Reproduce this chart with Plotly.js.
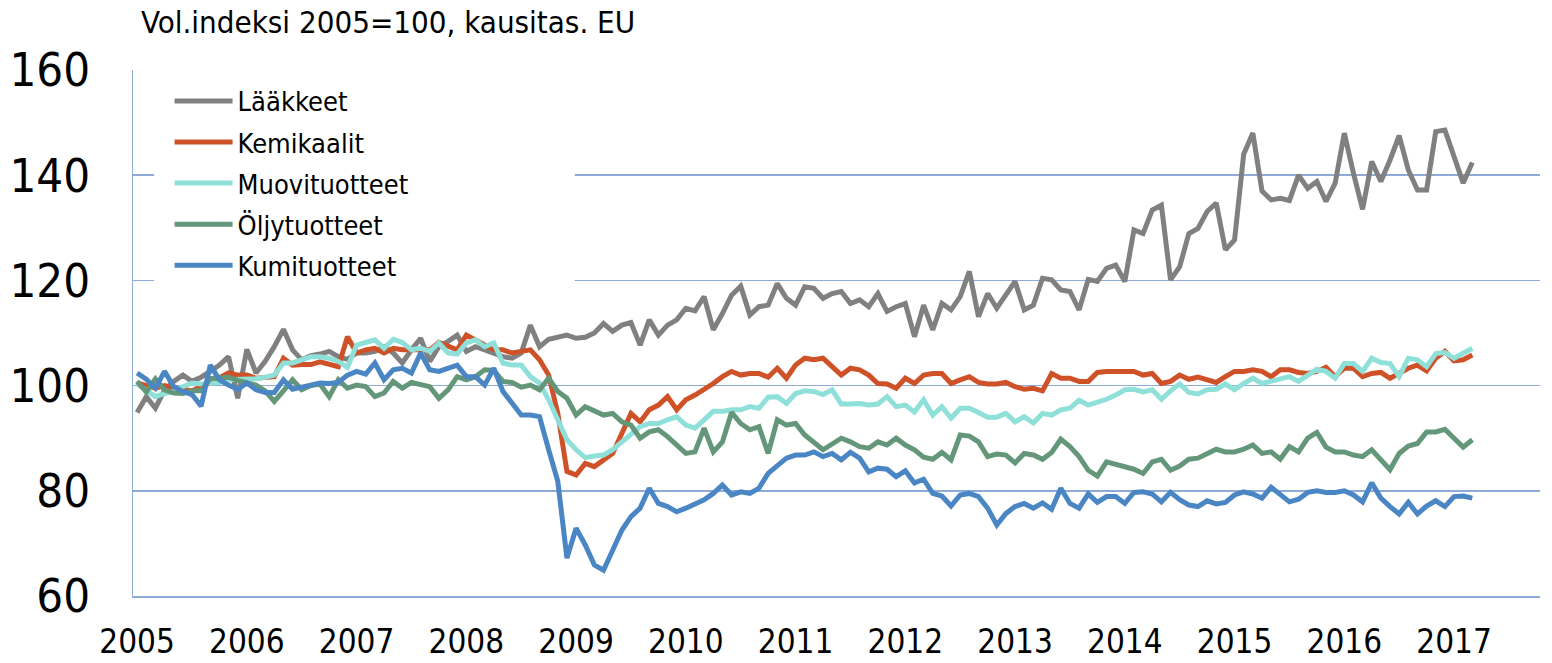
<!DOCTYPE html>
<html>
<head>
<meta charset="utf-8">
<script src="https://cdn.plot.ly/plotly-3.0.1.min.js"></script>
<style>
html,body{margin:0;padding:0;background:#fff;}
#chart{width:1552px;height:663px;}
</style>
</head>
<body>
<div id="chart"></div>
<script>
// Year tick labels (January of each year)
const years = ['2005','2006','2007','2008','2009','2010','2011','2012','2013','2014','2015','2016','2017'];

// Monthly series, Jan 2005 – Mar 2017 (volume index 2005=100, seasonally adjusted)
const laakkeet = [
  94.9, 97.9, 95.7, 99.2, 100.8, 102.0, 100.8, 101.6, 102.7, 103.9, 105.5, 97.6,
  106.9, 102.4, 104.6, 107.4, 110.7, 106.8, 104.9, 105.7, 106.0, 106.5, 105.5, 105.0,
  106.2, 106.2, 106.5, 107.4, 106.2, 104.3, 106.8, 109.0, 104.6, 107.4, 108.4, 109.6,
  106.5, 107.4, 106.8, 106.2, 105.5, 105.2, 106.2, 111.5, 107.4, 108.8, 109.3, 109.6,
  109.0, 109.2, 110.0, 111.8, 110.3, 111.5, 112.0, 107.7, 112.5, 109.6, 111.5, 112.5,
  114.7, 114.2, 116.9, 110.6, 113.7, 117.2, 118.9, 113.4, 115.0, 115.3, 119.4, 116.6,
  115.3, 118.8, 118.5, 116.6, 117.5, 117.9, 115.6, 116.3, 115.0, 117.5, 114.1, 115.0,
  115.6, 109.3, 115.3, 110.6, 115.6, 114.4, 116.9, 121.7, 113.1, 117.5, 114.7, 117.2,
  119.8, 114.4, 115.3, 120.4, 120.1, 118.2, 117.9, 114.4, 120.2, 119.8, 122.3, 122.9,
  119.8, 129.6, 128.9, 133.4, 134.3, 120.1, 122.6, 128.9, 129.9, 133.1, 134.7, 125.8,
  127.7, 144.0, 148.0, 137.0, 135.3, 135.6, 135.2, 140.0, 137.5, 138.8, 135.0, 138.5,
  148.0, 140.4, 133.5, 142.6, 138.8, 142.9, 147.5, 141.0, 137.2, 137.2, 148.3, 148.6,
  143.5, 138.5, 142.4
];
const kemikaalit = [
  100.5, 100.0, 99.5, 100.0, 99.5, 99.3, 99.0, 99.8, 100.5, 101.5, 102.4, 102.0,
  102.0, 101.4, 101.5, 101.7, 105.2, 103.9, 104.0, 104.0, 104.5, 104.0, 103.6, 109.3,
  106.2, 106.8, 107.1, 106.2, 107.1, 106.8, 106.8, 106.8, 106.8, 108.2, 107.4, 106.8,
  109.6, 108.7, 107.7, 106.8, 106.8, 106.2, 106.5, 106.8, 104.9, 102.0, 94.7, 83.7,
  83.0, 85.2, 84.6, 85.9, 87.1, 90.9, 94.7, 93.1, 95.4, 96.3, 97.9, 95.4,
  97.3, 98.2, 99.2, 100.4, 101.7, 102.7, 102.0, 102.3, 102.3, 101.6, 103.3, 101.4,
  103.9, 105.2, 104.9, 105.2, 103.6, 102.0, 103.3, 103.0, 102.0, 100.4, 100.3, 99.5,
  101.4, 100.4, 102.0, 102.3, 102.3, 100.4, 101.1, 101.7, 100.6, 100.3, 100.3, 100.6,
  99.8, 99.3, 99.5, 99.0, 102.3, 101.4, 101.4, 100.8, 100.8, 102.5, 102.7, 102.7,
  102.8, 102.7, 102.0, 102.3, 100.4, 100.8, 102.0, 101.2, 101.6, 101.2, 100.6, 101.7,
  102.7, 102.7, 103.0, 102.7, 101.7, 103.0, 103.0, 102.5, 102.3, 102.7, 103.5, 101.7,
  103.3, 103.3, 101.7, 102.3, 102.5, 101.4, 102.3, 103.3, 103.9, 102.8, 105.2, 106.5,
  104.7, 104.9, 105.8
];
const muovituotteet = [
  100.3, 99.0, 97.9, 98.5, 98.9, 99.8, 100.5, 100.3, 100.5, 100.6, 101.1, 101.1,
  101.1, 101.3, 101.6, 102.0, 104.3, 104.3, 104.9, 105.5, 105.5, 105.2, 104.6, 103.5,
  107.7, 108.1, 108.7, 107.1, 108.8, 108.2, 106.8, 107.1, 106.5, 108.1, 106.2, 106.0,
  108.1, 108.7, 107.4, 108.1, 104.3, 103.9, 103.9, 101.7, 100.5, 97.3, 93.5, 89.7,
  87.8, 86.3, 86.6, 86.8, 87.8, 89.3, 90.9, 92.2, 92.8, 92.8, 93.5, 94.1,
  92.5, 91.9, 93.5, 95.1, 95.1, 95.4, 95.4, 96.0, 95.7, 97.8, 97.9, 96.6,
  98.5, 99.0, 98.9, 98.3, 99.2, 96.5, 96.5, 96.6, 96.3, 96.5, 97.9, 96.0,
  96.3, 95.0, 97.3, 94.4, 96.0, 93.8, 95.7, 95.7, 94.9, 94.0, 94.0, 94.7,
  93.1, 94.1, 92.9, 94.7, 94.4, 95.4, 95.7, 97.2, 96.3, 96.8, 97.4, 98.2,
  99.2, 99.3, 98.8, 99.2, 97.4, 99.0, 100.3, 98.7, 98.4, 99.2, 99.3, 100.3,
  99.2, 100.4, 101.4, 100.4, 100.9, 101.4, 101.7, 100.8, 102.0, 103.1, 102.7, 101.4,
  104.2, 104.2, 102.7, 105.2, 104.4, 104.2, 101.7, 105.2, 104.9, 103.6, 106.1, 106.3,
  105.2, 106.1, 107.1
];
const oljytuotteet = [
  100.8, 98.8, 101.3, 99.2, 98.6, 98.5, 99.0, 99.0, 101.3, 101.5, 101.6, 101.0,
  100.5, 100.1, 99.0, 97.0, 99.0, 101.1, 99.2, 100.0, 100.3, 97.9, 101.1, 99.5,
  100.1, 99.8, 97.9, 98.6, 100.8, 99.5, 100.6, 100.1, 99.8, 97.6, 99.2, 101.7,
  101.1, 101.7, 103.0, 102.9, 100.8, 100.6, 99.7, 100.1, 99.2, 101.4, 98.9, 97.6,
  94.4, 96.0, 95.1, 94.4, 94.7, 93.1, 92.5, 90.0, 91.2, 91.6, 90.3, 88.7,
  87.1, 87.4, 91.9, 87.4, 89.3, 94.9, 92.8, 91.6, 92.2, 87.1, 93.5, 92.5,
  92.8, 90.6, 89.2, 87.8, 88.9, 90.0, 89.3, 88.4, 88.1, 89.3, 88.7, 90.0,
  88.7, 87.8, 86.4, 86.0, 87.3, 85.9, 90.6, 90.4, 89.3, 86.5, 87.0, 86.8,
  85.3, 87.1, 86.8, 86.0, 87.3, 89.8, 88.4, 86.5, 83.9, 82.8, 85.5, 85.1,
  84.6, 84.1, 83.3, 85.5, 86.0, 83.9, 84.7, 86.0, 86.2, 87.1, 87.9, 87.4,
  87.4, 87.9, 88.7, 87.1, 87.4, 86.0, 88.4, 87.4, 90.0, 91.1, 88.3, 87.4,
  87.4, 86.8, 86.5, 87.8, 86.0, 84.0, 87.1, 88.5, 89.0, 91.2, 91.2, 91.7,
  90.0, 88.3, 89.7
];
const kumituotteet = [
  102.4, 101.2, 99.5, 102.7, 99.8, 98.9, 98.3, 96.1, 103.9, 101.1, 100.1, 99.3,
  100.5, 99.2, 98.7, 98.7, 101.1, 99.3, 99.7, 100.0, 100.5, 100.4, 100.6, 102.0,
  102.7, 102.2, 104.3, 101.1, 103.0, 103.3, 102.4, 106.2, 103.0, 102.7, 103.3, 103.9,
  101.7, 101.7, 100.1, 103.3, 98.9, 96.7, 94.4, 94.4, 94.1, 87.8, 81.8, 67.2,
  72.9, 69.7, 65.9, 64.9, 68.5, 72.5, 75.1, 76.7, 80.5, 77.6, 77.0, 76.0,
  76.7, 77.6, 78.3, 79.5, 81.1, 79.2, 79.8, 79.5, 80.5, 83.3, 84.9, 86.2,
  86.8, 86.8, 87.4, 86.5, 87.1, 85.9, 87.3, 86.2, 83.6, 84.3, 84.1, 82.7,
  83.8, 81.5, 82.2, 79.5, 79.0, 77.1, 79.2, 79.5, 78.9, 76.7, 73.5, 75.7,
  77.0, 77.6, 76.7, 77.7, 76.5, 80.5, 77.6, 76.7, 79.4, 77.8, 78.9, 78.9,
  77.6, 79.7, 79.8, 79.4, 77.9, 79.7, 78.3, 77.3, 77.0, 78.1, 77.5, 77.8,
  79.2, 79.8, 79.4, 78.6, 80.7, 79.4, 77.9, 78.4, 79.7, 80.0, 79.7, 79.7,
  80.0, 79.2, 77.9, 81.5, 78.6, 77.0, 75.6, 77.8, 75.6, 77.1, 78.1, 77.0,
  78.9, 79.0, 78.6
];

const seriesNames = ['Lääkkeet','Kemikaalit','Muovituotteet','Öljytuotteet','Kumituotteet'];
const seriesData = [laakkeet, kemikaalit, muovituotteet, oljytuotteet, kumituotteet];
const seriesColors = ['#808080','#cf5128','#8fe0d9','#64977a','#4a86c4'];

// month index as category position
const monthIndex = laakkeet.map((_, k) => k);
const yearTickVals = years.map((_, k) => k * 12);

const FONT = '"DejaVu Sans Condensed", "DejaVu Sans", sans-serif';
const GRID = '#8eaad6';

const traces = seriesNames.map((name, k) => ({
  type: 'scatter',
  mode: 'lines',
  name: name,
  x: monthIndex,
  y: seriesData[k],
  line: {color: seriesColors[k], width: 5},
  legendgroup: 'g' + k,
  hoverinfo: 'skip'
}));

const layout = {
  width: 1552,
  height: 663,
  paper_bgcolor: '#ffffff',
  plot_bgcolor: '#ffffff',
  margin: {l: 133, r: 12, t: 70, b: 67},
  font: {family: FONT, color: '#000000'},
  title: {
    text: 'Vol.indeksi 2005=100, kausitas. EU',
    font: {family: FONT, size: 31, color: '#000000'},
    x: 141 / 1552, xanchor: 'left', xref: 'container',
    y: 1 - 22 / 663, yanchor: 'middle', yref: 'container'
  },
  showlegend: true,
  legend: {
    x: 0.026, xanchor: 'left',
    y: 0.987, yanchor: 'top',
    bgcolor: '#ffffff',
    borderwidth: 0,
    font: {family: FONT, size: 27, color: '#000000'},
    itemwidth: 58,
    tracegroupgap: 3
  },
  // white legend panel (covers gridlines up to x≈575 like the reference legend box)
  shapes: [{
    type: 'rect', xref: 'paper', yref: 'paper', layer: 'above',
    x0: 0.015, x1: 0.314, y0: 0.575, y1: 0.985,
    fillcolor: '#ffffff', line: {width: 0}
  }],
  xaxis: {
    range: [-0.45, 153.4],
    tickmode: 'array',
    tickvals: yearTickVals,
    ticktext: years,
    showgrid: false,
    zeroline: false,
    showline: true,
    linecolor: GRID,
    linewidth: 1.5,
    ticks: '',
    ticklabelstandoff: 16,
    tickfont: {family: FONT, size: 33, color: '#000000'}
  },
  yaxis: {
    range: [60, 160],
    tickmode: 'array',
    tickvals: [60, 80, 100, 120, 140, 160],
    ticktext: ['60', '80', '100', '120', '140', '160'],
    showgrid: true,
    gridcolor: GRID,
    gridwidth: 1.5,
    zeroline: false,
    showline: true,
    linecolor: GRID,
    linewidth: 1.5,
    ticks: '',
    ticklabelstandoff: 32,
    tickfont: {family: FONT, size: 47, color: '#000000'}
  }
};

Plotly.newPlot('chart', traces, layout, {displayModeBar: false, staticPlot: true});
</script>
</body>
</html>
